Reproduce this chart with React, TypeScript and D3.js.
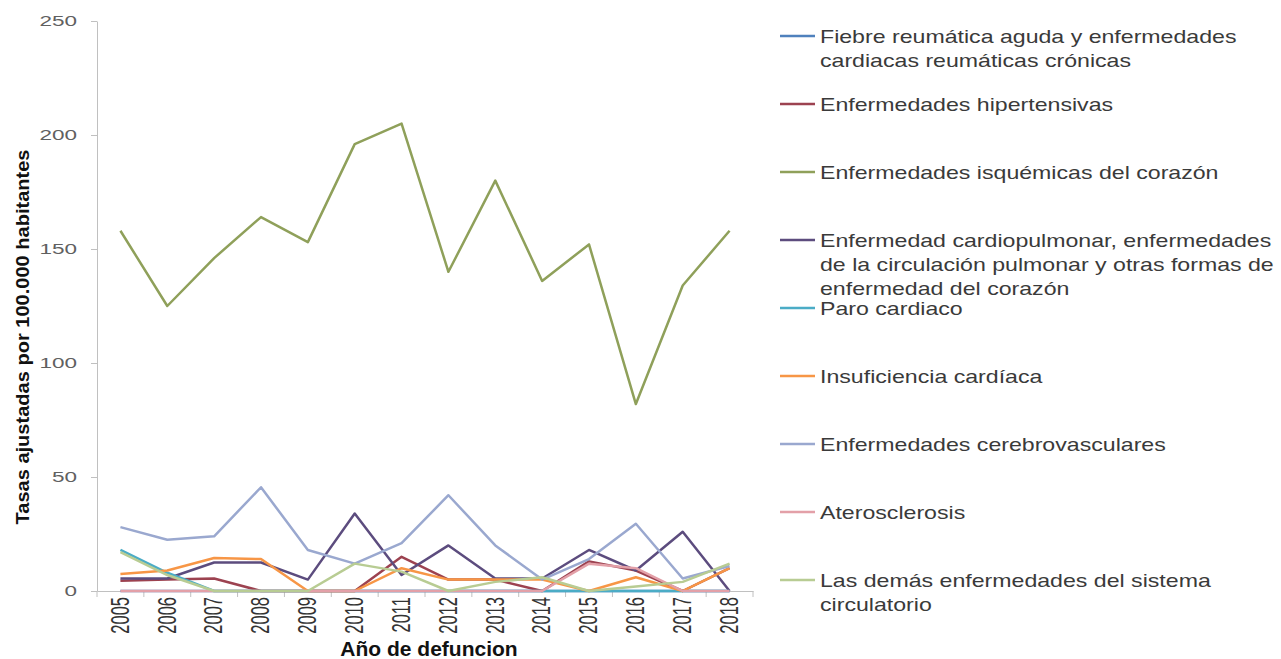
import { useEffect, useRef } from "react";
import * as d3 from "d3";

const years = ["2005", "2006", "2007", "2008", "2009", "2010", "2011", "2012", "2013", "2014", "2015", "2016", "2017", "2018"];
const yTicks = [0, 50, 100, 150, 200, 250];

const fiebre = [0, 0, 0, 0, 0, 0, 0, 0, 0, 0, 0, 0, 0, 0];
const hipertensivas = [4.5, 5, 5.5, 0, 0, 0, 15, 5, 5, 0, 13, 9, 0, 10];
const isquemicas = [158, 125, 146, 164, 153, 196, 205, 140, 180, 136, 152, 82, 134, 158];
const cardiopulmonar = [5.5, 5.5, 12.5, 12.5, 5, 34, 7, 20, 5.5, 5.5, 18, 9, 26, 0];
const paro = [18, 8, 0, 0, 0, 0, 0, 0, 0, 0, 0, 0, 0, 0];
const insuficiencia = [7.5, 9, 14.5, 14, 0, 0, 10, 5, 5, 5, 0, 6, 0, 10];
const cerebro = [28, 22.5, 24, 45.5, 18, 12, 21, 42, 20, 5, 14, 29.5, 5.5, 11];
const atero = [0, 0, 0, 0, 0, 0, 0, 0, 0, 0, 12, 10, 0, 0];
const demas = [17, 7, 0, 0, 0, 12, 8.5, 0, 4, 6, 0, 2, 4, 12];

const seriesNames = [
  ["Fiebre reumática aguda y enfermedades", "cardiacas reumáticas crónicas"],
  ["Enfermedades hipertensivas"],
  ["Enfermedades isquémicas del corazón"],
  ["Enfermedad cardiopulmonar, enfermedades", "de la circulación pulmonar y otras formas de", "enfermedad del corazón"],
  ["Paro cardiaco"],
  ["Insuficiencia cardíaca"],
  ["Enfermedades cerebrovasculares"],
  ["Aterosclerosis"],
  ["Las demás enfermedades del sistema", "circulatorio"],
];
const seriesValues = [fiebre, hipertensivas, isquemicas, cardiopulmonar, paro, insuficiencia, cerebro, atero, demas];
const seriesColors = ["#4f81bd", "#9c4250", "#8fa05a", "#5c4c7e", "#4bacc6", "#f79646", "#9aa8cf", "#e3a0a8", "#b8cc93"];

export default function App() {
  const svgRef = useRef(null);

  useEffect(() => {
    const width = 1281;
    const height = 659;
    const margin = { top: 21, right: 528, bottom: 68, left: 97 };
    const font = "'Liberation Sans', Arial, sans-serif";

    const svg = d3.select(svgRef.current);
    svg.selectAll("*").remove();
    svg.attr("width", width).attr("height", height).style("background", "#fff");

    const x = d3
      .scaleBand()
      .domain(years)
      .range([margin.left, width - margin.right]);
    const y = d3
      .scaleLinear()
      .domain([0, 250])
      .range([height - margin.bottom, margin.top]);

    // y axis
    const yAxis = svg
      .append("g")
      .attr("transform", `translate(${margin.left},0)`)
      .call(d3.axisLeft(y).tickValues(yTicks).tickSize(6).tickSizeOuter(0));
    yAxis.select(".domain").attr("stroke", "#c0c0c0");
    yAxis.selectAll(".tick line").attr("stroke", "#c0c0c0");
    yAxis
      .selectAll(".tick text")
      .attr("x", -20)
      .attr("fill", "#606060")
      .style("font-family", font)
      .style("font-size", "15px")
      .each(function () {
        const el = this as SVGTextElement;
        el.setAttribute("textLength", String(el.getComputedTextLength() * 1.5));
        el.setAttribute("lengthAdjust", "spacingAndGlyphs");
      });

    // x axis
    const xAxis = svg
      .append("g")
      .attr("transform", `translate(0,${height - margin.bottom})`)
      .call(d3.axisBottom(x).tickSize(0));
    xAxis.select(".domain").attr("stroke", "#c0c0c0");
    xAxis.selectAll(".tick text").remove();
    xAxis
      .selectAll(".bound")
      .data(years.concat(["end"]))
      .enter()
      .append("line")
      .attr("x1", (d, i) => (i < years.length ? x(d) : x.range()[1]))
      .attr("x2", (d, i) => (i < years.length ? x(d) : x.range()[1]))
      .attr("y1", 0)
      .attr("y2", 6)
      .attr("stroke", "#c0c0c0");

    svg
      .append("g")
      .selectAll("text")
      .data(years)
      .enter()
      .append("text")
      .attr("transform", d => `translate(${x(d) + x.bandwidth() / 2},${height - margin.bottom + 6}) rotate(-90) scale(1,1.55)`)
      .attr("text-anchor", "end")
      .attr("dominant-baseline", "central")
      .attr("fill", "#333")
      .style("font-family", font)
      .style("font-size", "16.5px")
      .text(d => d);

    // axis titles
    svg
      .append("text")
      .attr("x", 429)
      .attr("y", 656)
      .attr("text-anchor", "middle")
      .attr("fill", "#111")
      .style("font-family", font)
      .style("font-weight", "bold")
      .style("font-size", "21px")
      .text("Año de defuncion");

    svg
      .append("text")
      .attr("transform", `translate(22,337) rotate(-90) scale(1,1.2)`)
      .attr("text-anchor", "middle")
      .attr("dominant-baseline", "central")
      .attr("fill", "#111")
      .style("font-family", font)
      .style("font-weight", "bold")
      .style("font-size", "16px")
      .text("Tasas ajustadas por 100.000 habitantes")
      .each(function () {
        const el = this as SVGTextElement;
        el.setAttribute("textLength", String(375));
        el.setAttribute("lengthAdjust", "spacingAndGlyphs");
      });

    // lines
    const line = d3
      .line<number>()
      .x((d, i) => x(years[i]) + x.bandwidth() / 2)
      .y(d => y(d));

    svg
      .append("g")
      .selectAll("path")
      .data(seriesValues)
      .enter()
      .append("path")
      .attr("d", d => line(d))
      .attr("fill", "none")
      .attr("stroke", (d, i) => seriesColors[i])
      .attr("stroke-width", 2.5)
      .attr("stroke-linejoin", "round");

    // legend
    const legend = svg
      .append("g")
      .selectAll("g")
      .data(seriesNames)
      .enter()
      .append("g")
      .attr("transform", (d, i) => `translate(780,${43 + i * 68})`);

    legend
      .append("line")
      .attr("x1", 0)
      .attr("x2", 35)
      .attr("y1", -7)
      .attr("y2", -7)
      .attr("stroke", (d, i) => seriesColors[i])
      .attr("stroke-width", 2.5);

    legend
      .selectAll("text")
      .data(d => d)
      .enter()
      .append("text")
      .attr("x", 40)
      .attr("y", (d, i) => i * 24)
      .attr("fill", "#3a3a3a")
      .style("font-family", font)
      .style("font-size", "18.5px")
      .text(d => d)
      .each(function () {
        const el = this as SVGTextElement;
        el.setAttribute("textLength", String(el.getComputedTextLength() * 1.25));
        el.setAttribute("lengthAdjust", "spacingAndGlyphs");
      });
  }, []);

  return <svg ref={svgRef} style={{ position: "absolute", left: 0, top: 0 }}></svg>;
}
